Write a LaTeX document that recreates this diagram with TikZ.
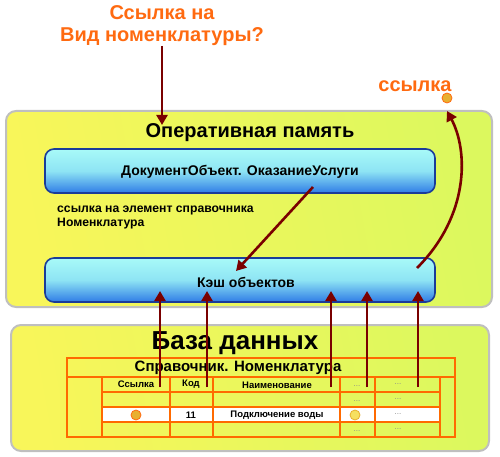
\documentclass[tikz,border=0pt]{standalone}
\usepackage{fontspec}
\setmainfont{Liberation Sans}
\usetikzlibrary{arrows.meta}
\definecolor{arr}{HTML}{7A0000}
\definecolor{org}{HTML}{FF6A10}
\definecolor{ylw}{HTML}{F8F65A}
\definecolor{ylg}{HTML}{DCF85E}
\definecolor{tline}{HTML}{FF6A00}
\definecolor{aqt}{HTML}{A8FAF8}
\definecolor{aqm}{HTML}{8EE4F4}
\definecolor{blb}{HTML}{2F7CE6}
\definecolor{bld}{HTML}{1A3C9A}
\definecolor{gold}{HTML}{E8B030}
\definecolor{lgold}{HTML}{F6E060}
\begin{document}
\begin{tikzpicture}[x=1pt,y=-1pt,
  link/.style={draw=arr, line width=2.6pt, -{Triangle[length=10pt,width=11pt]}},
  panel/.style={draw=black!25, line width=2pt, rounded corners=10pt, left color=ylw, right color=ylg, shading angle=100},
  bluebox/.style={draw=bld, line width=1.6pt, rounded corners=9pt, top color=aqt, bottom color=blb, middle color=aqm, minimum width=390pt, minimum height=44pt},
  otxt/.style={text=org, font=\bfseries\fontsize{20}{22}\selectfont},
  btxt/.style={font=\bfseries\fontsize{14}{16}\selectfont},
  ttxt/.style={font=\bfseries\fontsize{9.5}{11}\selectfont},
  dots/.style={text=black!45, font=\fontsize{8}{9}\selectfont},
  tl/.style={draw=tline, line width=1.4pt},
  dot/.style={circle, draw=org, line width=0.8pt, minimum size=10pt, inner sep=0pt}
]
\useasboundingbox (0,0) rectangle (500,457);

% panels
\node[panel, minimum width=486pt, minimum height=196pt] (ram) at (249,209) {};
\node[panel, minimum width=478pt, minimum height=126pt] (db) at (250,388) {};

% top labels
\node[otxt, align=center, inner sep=0pt] (q) at (162,26) {Ссылка на\\Вид номенклатуры?};
\coordinate (qs) at (162,46);
\coordinate (qe) at (162,125);
\node[otxt, inner sep=0pt] (lnk) at (415,86) {ссылка};
\node[dot, fill=gold] (ldot) at (447,98) {};

% RAM content
\node[font=\bfseries\fontsize{20}{24}\selectfont, inner sep=0pt] (ramt) at (250,133) {Оперативная память};
\node[bluebox] (doc) at (240,171) {};
\node[btxt] (doct) at (240,172) {ДокументОбъект. ОказаниеУслуги};
\node[font=\bfseries\fontsize{12.2}{14}\selectfont, align=left, anchor=north west, inner sep=0pt] (note) at (57,206) {ссылка на элемент справочника\\Номенклатура};
\node[bluebox] (cache) at (240,280) {};
\node[btxt] (cachet) at (246,282) {Кэш объектов};

% DB content
\node[font=\bfseries\fontsize{26}{30}\selectfont, inner sep=0pt] (dbt) at (235,343) {База данных};

% table
\fill[white] (102,407) rectangle (440,422);
\draw[tl] (67,358) rectangle (455,437);
\draw[tl] (67,377) -- (455,377);
\foreach \x in {102,170,213,340,375,440} \draw[tl] (\x,377) -- (\x,437);
\foreach \y in {392,407,422} \draw[tl] (102,\y) -- (440,\y);
\node[font=\bfseries\fontsize{15}{17}\selectfont, inner sep=0pt] (tt) at (238,368) {Справочник. Номенклатура};
\node[ttxt] (h1) at (136,384) {Ссылка};
\node[ttxt] (h2) at (191,384) {Код};
\node[ttxt] (h3) at (277,385) {Наименование};
\node[dots] (h4) at (357,386) {...};
\node[dots] (h5) at (398,384) {...};
\node[dots] (r24) at (357,401) {...};
\node[dots] (r25) at (398,399) {...};
\node[dot, fill=gold] (r31) at (136,415) {};
\node[ttxt] (r32) at (191,415) {11};
\node[ttxt] (r33) at (277,415) {Подключение воды};
\node[dot, fill=lgold, draw=gold] (r34) at (355,415) {};
\node[dots] (r35) at (398,414) {...};
\node[dots] (r44) at (357,431) {...};
\node[dots] (r45) at (398,429) {...};

% connectors
\draw[link] (qs) -- (qe);
\coordinate (ds) at (313,187);
\coordinate (ce) at (236,271);
\draw[link] (ds) -- (ce);
\coordinate (cs) at (417,268);
\coordinate (le) at (447,111);
\draw[link] (cs) .. controls (470,215) and (468,150) .. (le);
\foreach \x/\n in {160/a,207/b,331/c,367/d,418/e}{
  \coordinate (b\n) at (\x,387);
  \coordinate (t\n) at (\x,291);
  \draw[link] (b\n) -- (t\n);
}
\end{tikzpicture}
\end{document}
